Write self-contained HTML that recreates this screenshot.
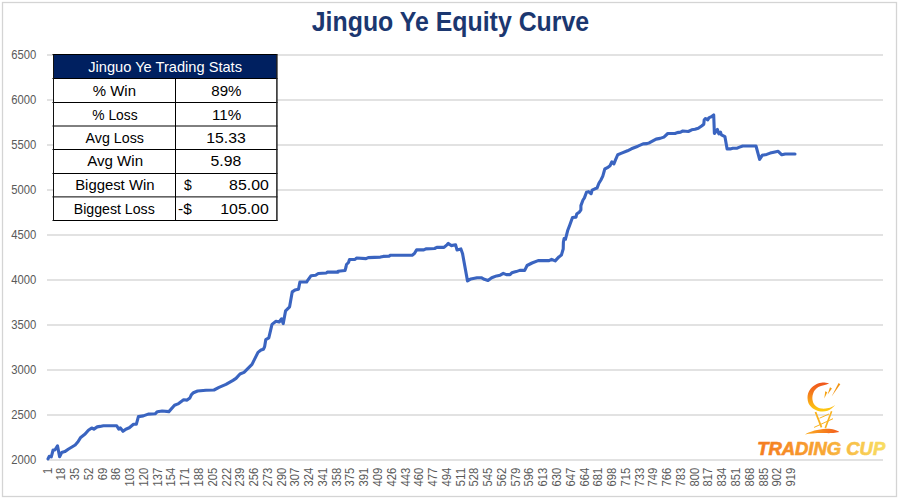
<!DOCTYPE html>
<html><head><meta charset="utf-8"><style>
html,body{margin:0;padding:0;background:#fff;}
svg{display:block;font-family:"Liberation Sans", sans-serif;}
</style></head><body>
<svg width="900" height="500" viewBox="0 0 900 500">
<rect x="0" y="0" width="900" height="500" fill="#fff"/>
<rect x="2.5" y="2.5" width="894" height="494" fill="none" stroke="#D4D4D4" stroke-width="1.3"/>
<line x1="47" y1="55" x2="883" y2="55" stroke="#E2E2E2" stroke-width="2"/>
<line x1="47" y1="100" x2="883" y2="100" stroke="#E2E2E2" stroke-width="2"/>
<line x1="47" y1="145" x2="883" y2="145" stroke="#E2E2E2" stroke-width="2"/>
<line x1="47" y1="190" x2="883" y2="190" stroke="#E2E2E2" stroke-width="2"/>
<line x1="47" y1="235" x2="883" y2="235" stroke="#E2E2E2" stroke-width="2"/>
<line x1="47" y1="280" x2="883" y2="280" stroke="#E2E2E2" stroke-width="2"/>
<line x1="47" y1="325" x2="883" y2="325" stroke="#E2E2E2" stroke-width="2"/>
<line x1="47" y1="370" x2="883" y2="370" stroke="#E2E2E2" stroke-width="2"/>
<line x1="47" y1="415" x2="883" y2="415" stroke="#E2E2E2" stroke-width="2"/>
<line x1="47" y1="460" x2="883" y2="460" stroke="#E2E2E2" stroke-width="2"/>
<text x="11.15" y="58.8" font-size="12.5" fill="#595959" textLength="25.06" lengthAdjust="spacingAndGlyphs">6500</text>
<text x="11.15" y="103.8" font-size="12.5" fill="#595959" textLength="25.06" lengthAdjust="spacingAndGlyphs">6000</text>
<text x="11.15" y="148.8" font-size="12.5" fill="#595959" textLength="25.06" lengthAdjust="spacingAndGlyphs">5500</text>
<text x="11.15" y="193.8" font-size="12.5" fill="#595959" textLength="25.06" lengthAdjust="spacingAndGlyphs">5000</text>
<text x="11.15" y="238.8" font-size="12.5" fill="#595959" textLength="25.06" lengthAdjust="spacingAndGlyphs">4500</text>
<text x="11.15" y="283.8" font-size="12.5" fill="#595959" textLength="25.06" lengthAdjust="spacingAndGlyphs">4000</text>
<text x="11.15" y="328.8" font-size="12.5" fill="#595959" textLength="25.06" lengthAdjust="spacingAndGlyphs">3500</text>
<text x="11.15" y="373.8" font-size="12.5" fill="#595959" textLength="25.06" lengthAdjust="spacingAndGlyphs">3000</text>
<text x="11.15" y="418.8" font-size="12.5" fill="#595959" textLength="25.06" lengthAdjust="spacingAndGlyphs">2500</text>
<text x="11.15" y="463.8" font-size="12.5" fill="#595959" textLength="25.06" lengthAdjust="spacingAndGlyphs">2000</text>
<text transform="translate(51.50,467.81) rotate(-90)" text-anchor="end" font-size="12.2" fill="#595959" textLength="6.26" lengthAdjust="spacingAndGlyphs">1</text>
<text transform="translate(65.27,467.78) rotate(-90)" text-anchor="end" font-size="12.2" fill="#595959" textLength="12.52" lengthAdjust="spacingAndGlyphs">18</text>
<text transform="translate(79.04,467.78) rotate(-90)" text-anchor="end" font-size="12.2" fill="#595959" textLength="12.52" lengthAdjust="spacingAndGlyphs">35</text>
<text transform="translate(92.81,467.78) rotate(-90)" text-anchor="end" font-size="12.2" fill="#595959" textLength="12.52" lengthAdjust="spacingAndGlyphs">52</text>
<text transform="translate(106.58,467.78) rotate(-90)" text-anchor="end" font-size="12.2" fill="#595959" textLength="12.52" lengthAdjust="spacingAndGlyphs">69</text>
<text transform="translate(120.35,467.78) rotate(-90)" text-anchor="end" font-size="12.2" fill="#595959" textLength="12.52" lengthAdjust="spacingAndGlyphs">86</text>
<text transform="translate(134.12,467.75) rotate(-90)" text-anchor="end" font-size="12.2" fill="#595959" textLength="18.78" lengthAdjust="spacingAndGlyphs">103</text>
<text transform="translate(147.89,467.75) rotate(-90)" text-anchor="end" font-size="12.2" fill="#595959" textLength="18.78" lengthAdjust="spacingAndGlyphs">120</text>
<text transform="translate(161.66,467.75) rotate(-90)" text-anchor="end" font-size="12.2" fill="#595959" textLength="18.78" lengthAdjust="spacingAndGlyphs">137</text>
<text transform="translate(175.43,467.75) rotate(-90)" text-anchor="end" font-size="12.2" fill="#595959" textLength="18.78" lengthAdjust="spacingAndGlyphs">154</text>
<text transform="translate(189.20,467.75) rotate(-90)" text-anchor="end" font-size="12.2" fill="#595959" textLength="18.78" lengthAdjust="spacingAndGlyphs">171</text>
<text transform="translate(202.97,467.75) rotate(-90)" text-anchor="end" font-size="12.2" fill="#595959" textLength="18.78" lengthAdjust="spacingAndGlyphs">188</text>
<text transform="translate(216.74,467.75) rotate(-90)" text-anchor="end" font-size="12.2" fill="#595959" textLength="18.78" lengthAdjust="spacingAndGlyphs">205</text>
<text transform="translate(230.51,467.75) rotate(-90)" text-anchor="end" font-size="12.2" fill="#595959" textLength="18.78" lengthAdjust="spacingAndGlyphs">222</text>
<text transform="translate(244.28,467.75) rotate(-90)" text-anchor="end" font-size="12.2" fill="#595959" textLength="18.78" lengthAdjust="spacingAndGlyphs">239</text>
<text transform="translate(258.05,467.75) rotate(-90)" text-anchor="end" font-size="12.2" fill="#595959" textLength="18.78" lengthAdjust="spacingAndGlyphs">256</text>
<text transform="translate(271.82,467.75) rotate(-90)" text-anchor="end" font-size="12.2" fill="#595959" textLength="18.78" lengthAdjust="spacingAndGlyphs">273</text>
<text transform="translate(285.59,467.75) rotate(-90)" text-anchor="end" font-size="12.2" fill="#595959" textLength="18.78" lengthAdjust="spacingAndGlyphs">290</text>
<text transform="translate(299.36,467.75) rotate(-90)" text-anchor="end" font-size="12.2" fill="#595959" textLength="18.78" lengthAdjust="spacingAndGlyphs">307</text>
<text transform="translate(313.13,467.75) rotate(-90)" text-anchor="end" font-size="12.2" fill="#595959" textLength="18.78" lengthAdjust="spacingAndGlyphs">324</text>
<text transform="translate(326.90,467.75) rotate(-90)" text-anchor="end" font-size="12.2" fill="#595959" textLength="18.78" lengthAdjust="spacingAndGlyphs">341</text>
<text transform="translate(340.67,467.75) rotate(-90)" text-anchor="end" font-size="12.2" fill="#595959" textLength="18.78" lengthAdjust="spacingAndGlyphs">358</text>
<text transform="translate(354.44,467.75) rotate(-90)" text-anchor="end" font-size="12.2" fill="#595959" textLength="18.78" lengthAdjust="spacingAndGlyphs">375</text>
<text transform="translate(368.21,467.75) rotate(-90)" text-anchor="end" font-size="12.2" fill="#595959" textLength="18.78" lengthAdjust="spacingAndGlyphs">391</text>
<text transform="translate(381.98,467.75) rotate(-90)" text-anchor="end" font-size="12.2" fill="#595959" textLength="18.78" lengthAdjust="spacingAndGlyphs">409</text>
<text transform="translate(395.75,467.75) rotate(-90)" text-anchor="end" font-size="12.2" fill="#595959" textLength="18.78" lengthAdjust="spacingAndGlyphs">426</text>
<text transform="translate(409.52,467.75) rotate(-90)" text-anchor="end" font-size="12.2" fill="#595959" textLength="18.78" lengthAdjust="spacingAndGlyphs">443</text>
<text transform="translate(423.29,467.75) rotate(-90)" text-anchor="end" font-size="12.2" fill="#595959" textLength="18.78" lengthAdjust="spacingAndGlyphs">460</text>
<text transform="translate(437.06,467.75) rotate(-90)" text-anchor="end" font-size="12.2" fill="#595959" textLength="18.78" lengthAdjust="spacingAndGlyphs">477</text>
<text transform="translate(450.83,467.75) rotate(-90)" text-anchor="end" font-size="12.2" fill="#595959" textLength="18.78" lengthAdjust="spacingAndGlyphs">494</text>
<text transform="translate(464.60,467.75) rotate(-90)" text-anchor="end" font-size="12.2" fill="#595959" textLength="18.78" lengthAdjust="spacingAndGlyphs">511</text>
<text transform="translate(478.37,467.75) rotate(-90)" text-anchor="end" font-size="12.2" fill="#595959" textLength="18.78" lengthAdjust="spacingAndGlyphs">528</text>
<text transform="translate(492.14,467.75) rotate(-90)" text-anchor="end" font-size="12.2" fill="#595959" textLength="18.78" lengthAdjust="spacingAndGlyphs">545</text>
<text transform="translate(505.91,467.75) rotate(-90)" text-anchor="end" font-size="12.2" fill="#595959" textLength="18.78" lengthAdjust="spacingAndGlyphs">562</text>
<text transform="translate(519.68,467.75) rotate(-90)" text-anchor="end" font-size="12.2" fill="#595959" textLength="18.78" lengthAdjust="spacingAndGlyphs">579</text>
<text transform="translate(533.45,467.75) rotate(-90)" text-anchor="end" font-size="12.2" fill="#595959" textLength="18.78" lengthAdjust="spacingAndGlyphs">596</text>
<text transform="translate(547.22,467.75) rotate(-90)" text-anchor="end" font-size="12.2" fill="#595959" textLength="18.78" lengthAdjust="spacingAndGlyphs">613</text>
<text transform="translate(560.99,467.75) rotate(-90)" text-anchor="end" font-size="12.2" fill="#595959" textLength="18.78" lengthAdjust="spacingAndGlyphs">630</text>
<text transform="translate(574.76,467.75) rotate(-90)" text-anchor="end" font-size="12.2" fill="#595959" textLength="18.78" lengthAdjust="spacingAndGlyphs">647</text>
<text transform="translate(588.53,467.75) rotate(-90)" text-anchor="end" font-size="12.2" fill="#595959" textLength="18.78" lengthAdjust="spacingAndGlyphs">664</text>
<text transform="translate(602.30,467.75) rotate(-90)" text-anchor="end" font-size="12.2" fill="#595959" textLength="18.78" lengthAdjust="spacingAndGlyphs">681</text>
<text transform="translate(616.07,467.75) rotate(-90)" text-anchor="end" font-size="12.2" fill="#595959" textLength="18.78" lengthAdjust="spacingAndGlyphs">698</text>
<text transform="translate(629.84,467.75) rotate(-90)" text-anchor="end" font-size="12.2" fill="#595959" textLength="18.78" lengthAdjust="spacingAndGlyphs">715</text>
<text transform="translate(643.61,467.75) rotate(-90)" text-anchor="end" font-size="12.2" fill="#595959" textLength="18.78" lengthAdjust="spacingAndGlyphs">733</text>
<text transform="translate(657.38,467.75) rotate(-90)" text-anchor="end" font-size="12.2" fill="#595959" textLength="18.78" lengthAdjust="spacingAndGlyphs">749</text>
<text transform="translate(671.15,467.75) rotate(-90)" text-anchor="end" font-size="12.2" fill="#595959" textLength="18.78" lengthAdjust="spacingAndGlyphs">766</text>
<text transform="translate(684.92,467.75) rotate(-90)" text-anchor="end" font-size="12.2" fill="#595959" textLength="18.78" lengthAdjust="spacingAndGlyphs">783</text>
<text transform="translate(698.69,467.75) rotate(-90)" text-anchor="end" font-size="12.2" fill="#595959" textLength="18.78" lengthAdjust="spacingAndGlyphs">800</text>
<text transform="translate(712.46,467.75) rotate(-90)" text-anchor="end" font-size="12.2" fill="#595959" textLength="18.78" lengthAdjust="spacingAndGlyphs">817</text>
<text transform="translate(726.23,467.75) rotate(-90)" text-anchor="end" font-size="12.2" fill="#595959" textLength="18.78" lengthAdjust="spacingAndGlyphs">834</text>
<text transform="translate(740.00,467.75) rotate(-90)" text-anchor="end" font-size="12.2" fill="#595959" textLength="18.78" lengthAdjust="spacingAndGlyphs">851</text>
<text transform="translate(753.77,467.75) rotate(-90)" text-anchor="end" font-size="12.2" fill="#595959" textLength="18.78" lengthAdjust="spacingAndGlyphs">868</text>
<text transform="translate(767.54,467.75) rotate(-90)" text-anchor="end" font-size="12.2" fill="#595959" textLength="18.78" lengthAdjust="spacingAndGlyphs">885</text>
<text transform="translate(781.31,467.75) rotate(-90)" text-anchor="end" font-size="12.2" fill="#595959" textLength="18.78" lengthAdjust="spacingAndGlyphs">902</text>
<text transform="translate(795.08,467.75) rotate(-90)" text-anchor="end" font-size="12.2" fill="#595959" textLength="18.78" lengthAdjust="spacingAndGlyphs">919</text>
<polyline points="48.0,458.9 49.2,456.3 51.3,456.8 53.1,450.0 54.9,450.0 57.5,445.9 59.6,456.8 61.7,452.6 64.8,451.6 68.6,449.0 75.2,445.0 78.0,441.8 80.7,437.4 85.1,434.0 88.4,430.2 91.7,428.0 93.9,429.1 97.2,426.9 100.0,426.4 103.4,425.7 116.7,425.7 118.8,429.2 120.2,427.8 123.0,431.3 125.8,429.2 129.3,427.8 133.5,424.3 136.3,424.3 138.4,416.6 143.3,415.9 148.2,414.1 155.2,413.8 157.3,411.7 162.2,411.0 168.9,411.6 174.5,405.3 178.0,403.9 183.6,399.7 187.1,400.1 189.9,398.0 191.3,394.8 193.4,392.7 197.6,391.0 206.0,390.2 214.0,390.0 219.0,387.4 226.0,384.4 233.0,380.4 236.0,378.4 240.0,374.0 244.0,372.4 250.0,366.4 252.0,364.4 258.0,352.4 261.0,350.0 263.4,349.2 264.6,346.8 265.8,339.6 268.8,337.8 272.0,324.4 276.0,321.2 279.2,322.0 281.6,318.8 283.2,323.6 285.6,310.8 289.6,306.8 292.2,291.9 294.9,290.1 298.5,289.2 299.9,282.0 306.6,282.0 307.5,280.7 311.1,275.7 315.6,275.3 318.3,273.5 326.4,273.0 327.3,272.1 338.1,272.1 338.0,271.2 345.0,270.5 346.0,267.0 346.5,264.5 348.5,262.5 349.5,259.5 355.0,259.5 356.5,258.0 366.0,258.6 368.2,257.6 380.4,257.1 383.3,256.4 389.1,256.1 390.6,255.2 412.2,255.2 414.4,253.5 416.6,249.9 423.8,249.9 425.9,248.9 434.6,248.5 436.8,247.4 444.0,247.4 446.9,244.8 448.3,243.4 451.2,245.6 455.6,244.8 457.0,249.9 460.9,248.9 462.5,253.4 467.5,280.9 470.9,278.9 477.0,277.7 481.3,277.7 484.3,279.3 488.0,280.5 491.7,277.7 496.6,275.9 500.2,275.2 503.3,273.4 506.3,274.6 510.0,274.6 511.8,272.8 516.1,271.6 519.8,270.4 524.7,270.4 527.1,265.5 532.0,263.0 538.1,260.6 549.1,260.6 551.6,259.4 555.2,260.9 558.9,256.9 561.4,255.1 563.2,249.0 563.4,242.0 564.1,238.5 565.5,239.2 567.6,230.8 569.7,225.2 572.5,217.5 576.0,217.1 576.7,214.0 579.5,211.9 580.9,209.8 580.9,205.6 583.0,200.0 584.4,197.9 586.5,192.3 588.6,191.6 591.1,193.7 592.1,190.2 594.9,188.8 597.0,188.1 598.9,183.3 600.9,180.0 602.8,176.1 604.8,169.0 607.4,167.7 610.0,165.7 611.9,161.8 613.9,163.8 615.8,159.2 617.8,154.7 621.0,153.4 627.5,150.8 631.4,148.8 637.9,146.2 643.1,143.9 647.0,143.6 649.6,142.7 656.1,139.1 660.0,138.4 663.9,137.1 667.8,133.5 675.0,133.5 677.2,132.6 680.6,132.1 682.8,131.0 688.3,131.5 691.7,129.8 695.0,129.3 698.3,128.2 701.6,126.0 703.8,124.2 704.2,119.8 705.6,118.5 707.8,119.8 709.1,117.6 711.3,116.8 713.7,115.0 714.4,133.5 717.4,129.5 718.8,133.9 720.5,132.2 721.4,134.8 724.9,136.6 727.1,148.9 730.2,148.9 732.8,148.2 737.2,148.2 738.9,147.4 742.7,146.0 756.0,146.0 759.6,159.3 762.2,155.3 766.7,154.4 770.2,153.1 773.8,152.2 778.2,151.3 781.8,154.8 785.3,154.0 795.0,154.0" fill="none" stroke="#3A64C0" stroke-width="3.1" stroke-linejoin="round" stroke-linecap="round"/>
<rect x="53" y="55" width="224" height="166" fill="#fff"/>
<rect x="53" y="54.5" width="224" height="24" fill="#002060"/>
<text x="88.25" y="71.8" font-size="14.4" font-weight="normal" font-style="normal" fill="#FFFFFF" textLength="153.73" lengthAdjust="spacingAndGlyphs">Jinguo Ye Trading Stats</text>
<text x="92.77" y="95.8" font-size="14" font-weight="normal" font-style="normal" fill="#000" textLength="43.25" lengthAdjust="spacingAndGlyphs">% Win</text>
<text x="92.31" y="119.5" font-size="14" font-weight="normal" font-style="normal" fill="#000" textLength="45.31" lengthAdjust="spacingAndGlyphs">% Loss</text>
<text x="85.60" y="143.0" font-size="14" font-weight="normal" font-style="normal" fill="#000" textLength="58.30" lengthAdjust="spacingAndGlyphs">Avg Loss</text>
<text x="87.20" y="166.3" font-size="14" font-weight="normal" font-style="normal" fill="#000" textLength="55.94" lengthAdjust="spacingAndGlyphs">Avg Win</text>
<text x="75.17" y="189.8" font-size="14" font-weight="normal" font-style="normal" fill="#000" textLength="79.34" lengthAdjust="spacingAndGlyphs">Biggest Win</text>
<text x="73.74" y="213.7" font-size="14" font-weight="normal" font-style="normal" fill="#000" textLength="80.99" lengthAdjust="spacingAndGlyphs">Biggest Loss</text>
<text x="211.34" y="95.8" font-size="14.8" font-weight="normal" font-style="normal" fill="#000" textLength="30.20" lengthAdjust="spacingAndGlyphs">89%</text>
<text x="211.92" y="119.5" font-size="14.8" font-weight="normal" font-style="normal" fill="#000" textLength="29.22" lengthAdjust="spacingAndGlyphs">11%</text>
<text x="206.16" y="143.0" font-size="14.8" font-weight="normal" font-style="normal" fill="#000" textLength="39.57" lengthAdjust="spacingAndGlyphs">15.33</text>
<text x="210.50" y="166.3" font-size="14.8" font-weight="normal" font-style="normal" fill="#000" textLength="30.70" lengthAdjust="spacingAndGlyphs">5.98</text>
<text x="184.06" y="189.8" font-size="14.8" font-weight="normal" font-style="normal" fill="#000" textLength="7.76" lengthAdjust="spacingAndGlyphs">$</text>
<text x="229.10" y="189.8" font-size="14.8" font-weight="normal" font-style="normal" fill="#000" textLength="39.67" lengthAdjust="spacingAndGlyphs">85.00</text>
<text x="178.02" y="213.7" font-size="14.8" font-weight="normal" font-style="normal" fill="#000" textLength="13.76" lengthAdjust="spacingAndGlyphs">-$</text>
<text x="220.26" y="213.7" font-size="14.8" font-weight="normal" font-style="normal" fill="#000" textLength="48.49" lengthAdjust="spacingAndGlyphs">105.00</text>
<line x1="52.5" y1="78.5" x2="277.5" y2="78.5" stroke="#000" stroke-width="1"/>
<line x1="52.5" y1="102.5" x2="277.5" y2="102.5" stroke="#000" stroke-width="1"/>
<line x1="52.5" y1="126.0" x2="277.5" y2="126.0" stroke="#000" stroke-width="1"/>
<line x1="52.5" y1="149.5" x2="277.5" y2="149.5" stroke="#000" stroke-width="1"/>
<line x1="52.5" y1="173.5" x2="277.5" y2="173.5" stroke="#000" stroke-width="1"/>
<line x1="52.5" y1="196.9" x2="277.5" y2="196.9" stroke="#000" stroke-width="1"/>
<line x1="52.5" y1="220.5" x2="277.5" y2="220.5" stroke="#000" stroke-width="1"/>
<line x1="52.5" y1="54.5" x2="277.5" y2="54.5" stroke="#000" stroke-width="1"/>
<line x1="53.5" y1="54.5" x2="53.5" y2="221" stroke="#111" stroke-width="1"/>
<line x1="276.9" y1="54.5" x2="276.9" y2="221" stroke="#222" stroke-width="1.5"/>
<line x1="175.5" y1="78.5" x2="175.5" y2="221" stroke="#000" stroke-width="1"/>
<defs>
<linearGradient id="tg" x1="758" y1="0" x2="885" y2="0" gradientUnits="userSpaceOnUse">
<stop offset="0" stop-color="#F47A1F"/><stop offset="0.5" stop-color="#F8A532"/><stop offset="1" stop-color="#F8DE62"/>
</linearGradient>
<linearGradient id="cg" x1="0" y1="383" x2="0" y2="411" gradientUnits="userSpaceOnUse">
<stop offset="0" stop-color="#F0561C"/><stop offset="0.35" stop-color="#F47A1C"/><stop offset="0.75" stop-color="#FBB014"/><stop offset="1" stop-color="#FDCB10"/>
</linearGradient>
<linearGradient id="bg2" x1="805" y1="0" x2="840" y2="0" gradientUnits="userSpaceOnUse">
<stop offset="0" stop-color="#FBB024"/><stop offset="0.5" stop-color="#F7851E"/><stop offset="1" stop-color="#F25A1E"/>
</linearGradient>
</defs>
<path d="M829.2,383.2 C826,382.6 824.5,382.3 822.6,382.4 C819,382.6 813.5,385 810.6,388.8 C808.3,391.8 807.4,395 807.5,398 C807.6,402 809,405 810.8,406.4 C813,409 818,411.6 822.6,411.6 C826,411.6 829.5,410.3 831.5,408.6 C833,407.6 834.3,406.2 835.2,405 C832.5,406.8 830.5,407.8 828.6,408 C826,408.6 823.5,408.8 821.4,408.6 C819,408.3 817.5,407.3 816,406.2 C814.2,404.6 813.1,402.7 812.8,401.2 C812.3,399.2 812.3,397.6 812.5,396 C812.9,393.8 813.7,391.8 814.6,390.5 C815.8,388.9 817,387.8 818.4,387 C820,386.1 821.8,385.5 823.8,385.2 C825.6,384.8 827.5,384 829.2,383.2 Z" fill="url(#cg)"/>
<path d="M825.2,391.3 L827.3,392.3 L824.3,398.4 Z" fill="#F6A210"/>
<path d="M830.0,387.3 L831.9,388.6 L827.6,394.4 Z" fill="#F39A10"/>
<path d="M838.6,382.9 L840.3,384.2 L831.6,396.6 Z" fill="#F29412"/>
<path d="M815.5,412 L821.5,427.4" stroke="#F9B21E" stroke-width="1.8"/>
<path d="M831.6,411.3 L825.3,428.1" stroke="#F9B21E" stroke-width="1.6"/>
<path d="M819.5,418.2 L829,414" stroke="#F9B21E" stroke-width="1"/>
<path d="M814.1,427.4 L833,418.7" stroke="#F9B21E" stroke-width="1"/>
<path d="M805,434.4 C810,431.5 818,429.2 826,428.8 C832,428.6 837,430 839.3,432 C834,433.2 829,433.2 826,433.1 C818,432.8 811,433.4 805,434.4 Z" fill="url(#bg2)"/>
<text x="757.14" y="454.9" font-size="19" font-weight="bold" font-style="italic" fill="url(#tg)" textLength="128.11" lengthAdjust="spacingAndGlyphs" stroke="url(#tg)" stroke-width="0.7">TRADING CUP</text>
<text x="311.75" y="30.95" font-size="27.6" font-weight="bold" font-style="normal" fill="#1B3770" textLength="277.41" lengthAdjust="spacingAndGlyphs">Jinguo Ye Equity Curve</text>
</svg>
</body></html>
